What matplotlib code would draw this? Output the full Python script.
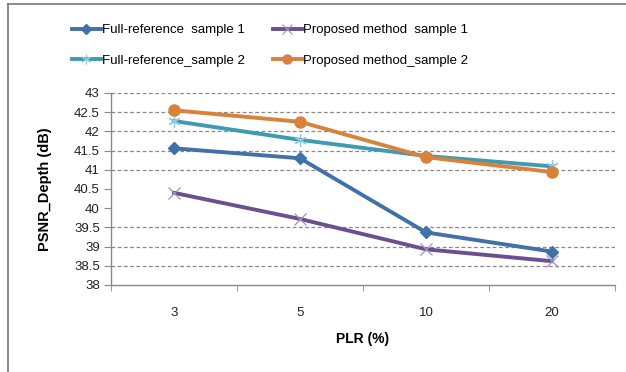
import matplotlib
matplotlib.use("Agg")
import matplotlib.pyplot as plt
from matplotlib.lines import Line2D

categories = ["3", "5", "10", "20"]
full_ref_s1 = [41.56, 41.30, 39.37, 38.87]
proposed_s1 = [40.40, 39.72, 38.93, 38.62]
full_ref_s2 = [42.27, 41.78, 41.36, 41.09]
proposed_s2 = [42.55, 42.25, 41.33, 40.94]
yticks = [38, 38.5, 39, 39.5, 40, 40.5, 41, 41.5, 42, 42.5, 43]
ytick_labels = ["38", "38.5", "39", "39.5", "40", "40.5", "41", "41.5", "42", "42.5", "43"]
grid_levels = [38.5, 39, 39.5, 41, 41.5, 42, 42.5, 43]

plt.rcParams['font.family'] = ['Liberation Sans', 'DejaVu Sans']

W, H = 626, 372
fig = plt.figure(figsize=(W / 100, H / 100), dpi=100)
ax = fig.add_axes([111 / W, 1 - 285 / H, (615 - 111) / W, (285 - 93) / H])

x = list(range(len(categories)))
lw = 2.8
c_blue, c_purple, c_teal, c_orange = "#4270A8", "#6B4F8F", "#3F9AB2", "#D9823B"
ax.plot(x, full_ref_s1, color=c_blue, lw=lw, marker="D", ms=6.5,
        mfc=c_blue, mec=c_blue, zorder=3, solid_joinstyle="round")
ax.plot(x, proposed_s1, color=c_purple, lw=lw, marker="x", ms=9, mew=0.9,
        mec="#A38FC4", zorder=3, solid_joinstyle="round")
ax.plot(x, full_ref_s2, color=c_teal, lw=lw, marker=(6, 2, 0), ms=9, mew=0.9,
        mec="#8DCBDD", zorder=3, solid_joinstyle="round")
ax.plot(x, proposed_s2, color=c_orange, lw=lw, marker="o", ms=8,
        mfc=c_orange, mec=c_orange, zorder=4, solid_joinstyle="round")

ax.set_xlim(-0.5, len(categories) - 0.5)
ax.set_ylim(38, 43)
ax.set_xticks(x)
ax.set_xticklabels(categories, fontsize=9.5, color="#222222")
ax.set_yticks(yticks)
ax.set_yticklabels(ytick_labels, fontsize=9.5, color="#222222")
ax.set_xticks([i + 0.5 for i in range(-1, len(categories))], minor=True)
ax.tick_params(axis="x", which="major", length=0, pad=16)
ax.tick_params(axis="x", which="minor", length=4, color="#888888", direction="out")
ax.tick_params(axis="y", length=5, color="#888888", direction="out", pad=3)

for g in grid_levels:
    ax.axhline(g, color="#888888", lw=0.9, ls=(0, (3, 2)), zorder=1)

for s in ["top", "right"]:
    ax.spines[s].set_visible(False)
for s in ["left", "bottom"]:
    ax.spines[s].set_color("#888888")
    ax.spines[s].set_linewidth(1.0)

ax.set_ylabel("PSNR_Depth (dB)", fontsize=10.5, fontweight="bold", labelpad=16)
ax.set_xlabel("PLR (%)", fontsize=10, fontweight="bold", labelpad=9)

h_full1 = Line2D([], [], color=c_blue, lw=lw, marker="D", ms=5, mfc=c_blue, mec=c_blue)
h_prop1 = Line2D([], [], color=c_purple, lw=lw, marker="x", ms=7, mew=0.8, mec="#A38FC4")
h_full2 = Line2D([], [], color=c_teal, lw=lw, marker=(6, 2, 0), ms=7, mew=0.8, mec="#8DCBDD")
h_prop2 = Line2D([], [], color=c_orange, lw=lw, marker="o", ms=6.5, mfc=c_orange, mec=c_orange)
handles = [h_full1, h_full2, h_prop1, h_prop2]
labels = ["Full-reference  sample 1", "Full-reference_sample 2",
          "Proposed method  sample 1", "Proposed method_sample 2"]
fig.legend(handles, labels, ncol=2, loc="center", bbox_to_anchor=(270 / W, 1 - 45.5 / H),
           frameon=False, fontsize=9.5, handlelength=2.2, handletextpad=0.1,
           columnspacing=2.1, labelspacing=1.4)

# outer chart border (left and top visible)
fig.add_artist(Line2D([7.5 / W, 7.5 / W], [0, 1 - 4 / H], transform=fig.transFigure,
                      color="#808080", lw=1.3))
fig.add_artist(Line2D([7.5 / W, 1], [1 - 4 / H, 1 - 4 / H], transform=fig.transFigure,
                      color="#808080", lw=1.3))

fig.savefig("out.png", dpi=100)
